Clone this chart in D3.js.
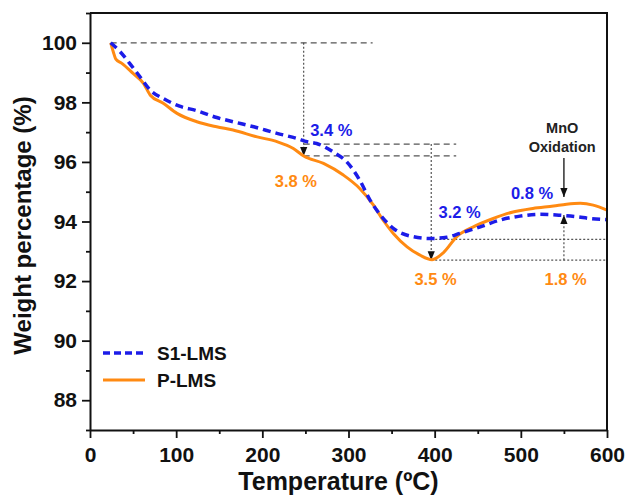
<!DOCTYPE html>
<html>
<head>
<meta charset="utf-8">
<script src="https://cdn.jsdelivr.net/npm/d3@7"></script>
<style>
  body { margin: 0; background: #fff; }
  svg text { font-family: "Liberation Sans", Arial, sans-serif; font-weight: bold; }
</style>
</head>
<body>
<div id="chart"></div>
<script>
// --- data (temperature in degC, weight in %) ---
const s1Temp   = [24, 35, 46, 58, 70, 85, 104, 124, 147, 166, 190, 217, 240, 252, 263, 282, 298, 313, 325, 337, 352, 375, 395, 414, 429, 453, 476, 499, 522, 545, 565, 580, 600];
const s1Weight = [100, 99.7, 99.31, 98.86, 98.41, 98.13, 97.87, 97.72, 97.49, 97.35, 97.18, 96.96, 96.79, 96.68, 96.62, 96.34, 96.0, 95.39, 94.72, 94.22, 93.77, 93.49, 93.43, 93.47, 93.6, 93.82, 94.05, 94.18, 94.24, 94.21, 94.16, 94.1, 94.06];

const pTemp   = [24, 27, 30, 37, 50, 62, 70, 85, 101, 124, 147, 166, 194, 217, 236, 248, 271, 294, 313, 329, 340, 352, 368, 383, 397, 410, 426, 445, 468, 491, 514, 538, 553, 569, 584, 600];
const pWeight = [100, 99.7, 99.45, 99.31, 98.97, 98.64, 98.24, 97.97, 97.63, 97.35, 97.18, 97.07, 96.84, 96.68, 96.45, 96.2, 95.95, 95.56, 95.11, 94.55, 94.05, 93.6, 93.15, 92.87, 92.72, 92.95, 93.5, 93.82, 94.1, 94.32, 94.44, 94.52, 94.58, 94.61, 94.55, 94.38];

const seriesNames = ['S1-LMS', 'P-LMS'];
const xTicks = [0, 100, 200, 300, 400, 500, 600];
const yTicks = [88, 90, 92, 94, 96, 98, 100];

// weight-loss annotations: [label, series, T, weight]
const lossLabels = [
  ['3.4 %', 0, 280, 96.87],
  ['3.8 %', 1, 239, 95.15],
  ['3.2 %', 0, 429, 94.11],
  ['3.5 %', 1, 401, 91.86],
  ['0.8 %', 0, 513, 94.75],
  ['1.8 %', 1, 552, 91.86]
];

const W = 627, H = 498;
const margin = { top: 13, right: 20, bottom: 68, left: 90 };
const width  = W - margin.left - margin.right;
const height = H - margin.top - margin.bottom;
const colors = ['#1c1ce8', '#ff8a12'];

const svg = d3.select('#chart').append('svg')
  .attr('width', W).attr('height', H);

const defs = svg.append('defs');
defs.append('marker')
  .attr('id', 'arrow')
  .attr('viewBox', '0 0 10 10')
  .attr('refX', 10).attr('refY', 5)
  .attr('markerUnits', 'userSpaceOnUse')
  .attr('markerWidth', 9).attr('markerHeight', 9)
  .attr('orient', 'auto')
  .append('path').attr('d', 'M0,1 L10,5 L0,9 Z').attr('fill', '#111');

const g = svg.append('g').attr('transform', `translate(${margin.left},${margin.top})`);

const x = d3.scaleLinear().domain([0, 600]).range([0, width]);
const y = d3.scaleLinear().domain([87, 101]).range([height, 0]);

// --- reference lines ---
const ref = g.append('g').attr('fill', 'none');
function hline(v, t0, t1, dash, color) {
  ref.append('line')
    .attr('x1', x(t0)).attr('x2', x(t1)).attr('y1', y(v)).attr('y2', y(v))
    .attr('stroke', color).attr('stroke-width', 1.3).attr('stroke-dasharray', dash);
}
function vline(t, v0, v1, arrow) {
  ref.append('line')
    .attr('x1', x(t)).attr('x2', x(t)).attr('y1', y(v0)).attr('y2', y(v1))
    .attr('stroke', '#444').attr('stroke-width', 1.1).attr('stroke-dasharray', '2,2')
    .attr('marker-end', arrow ? 'url(#arrow)' : null);
}
hline(100, 24, 328, '6,4', '#555');
hline(96.6, 248, 425, '6,4', '#555');
hline(96.2, 248, 425, '6,4', '#555');
hline(93.4, 396, 600, '2,2', '#555');
hline(92.7, 396, 600, '2,2', '#555');
vline(248, 100, 96.2, true);
vline(396, 96.6, 92.7, true);
vline(550, 92.7, 94.22, true);

// --- curves ---
const line = d3.line()
  .x(d => x(d[0])).y(d => y(d[1]))
  .curve(d3.curveMonotoneX);

const pData  = pTemp.map((t, i) => [t, pWeight[i]]);
const s1Data = s1Temp.map((t, i) => [t, s1Weight[i]]);

g.append('path').datum(pData)
  .attr('d', line).attr('fill', 'none')
  .attr('stroke', colors[1]).attr('stroke-width', 3);

g.append('path').datum(s1Data)
  .attr('d', line).attr('fill', 'none')
  .attr('stroke', colors[0]).attr('stroke-width', 3.5)
  .attr('stroke-dasharray', '8,5');

// MnO oxidation arrow
g.append('line')
  .attr('x1', x(550)).attr('x2', x(550))
  .attr('y1', y(96.13)).attr('y2', y(94.82))
  .attr('stroke', '#111').attr('stroke-width', 1.3)
  .attr('marker-end', 'url(#arrow)');

g.selectAll('.mno')
  .data([['MnO', 96.97], ['Oxidation', 96.33]])
  .join('text')
    .attr('x', x(548)).attr('y', d => y(d[1]))
    .attr('text-anchor', 'middle')
    .attr('font-size', 14.5).attr('fill', '#222')
    .text(d => d[0]);

g.selectAll('.loss')
  .data(lossLabels)
  .join('text')
    .attr('x', d => x(d[2])).attr('y', d => y(d[3]))
    .attr('text-anchor', 'middle')
    .attr('font-size', 16.5)
    .attr('fill', d => colors[d[1]])
    .text(d => d[0]);

// --- axes ---
g.append('g').attr('transform', `translate(0,${height})`)
  .call(d3.axisBottom(x).tickValues(xTicks).tickSize(8).tickPadding(9).tickSizeOuter(0));
g.append('g').attr('transform', `translate(0,${height})`)
  .call(d3.axisBottom(x).tickValues(d3.range(50, 600, 100)).tickSize(4).tickFormat('').tickSizeOuter(0))
  .select('.domain').remove();

g.append('g')
  .call(d3.axisLeft(y).tickValues(yTicks).tickSize(8).tickPadding(5).tickSizeOuter(0));
g.append('g')
  .call(d3.axisLeft(y).tickValues(d3.range(87, 101.5, 2)).tickSize(4).tickFormat('').tickSizeOuter(0))
  .select('.domain').remove();

g.selectAll('.tick line').attr('stroke', '#111').attr('stroke-width', 1.8);
g.selectAll('.tick text').attr('font-size', 21).attr('fill', '#111');
g.selectAll('.domain').attr('stroke', '#111').attr('stroke-width', 2);

// top and right frame
g.append('path')
  .attr('d', `M0,0 H${width} V${height}`)
  .attr('fill', 'none').attr('stroke', '#111').attr('stroke-width', 2);

// axis titles
svg.append('text')
  .attr('x', margin.left + width / 2 - 10).attr('y', 490)
  .attr('text-anchor', 'middle').attr('font-size', 25).attr('fill', '#111')
  .text('Temperature (ºC)');

svg.append('text')
  .attr('transform', `translate(31,${margin.top + y(94) + 4}) rotate(-90)`)
  .attr('text-anchor', 'middle').attr('font-size', 24).attr('fill', '#111')
  .text('Weight percentage (%)');

// --- legend ---
const legend = g.append('g').attr('transform', `translate(${103 - margin.left},${353 - margin.top})`);
seriesNames.forEach((name, i) => {
  const row = legend.append('g').attr('transform', `translate(0,${i * 27})`);
  row.append('line')
    .attr('x1', 0).attr('x2', 42)
    .attr('stroke', colors[i])
    .attr('stroke-width', i === 0 ? 3.4 : 3)
    .attr('stroke-dasharray', i === 0 ? '7,4' : null);
  row.append('text')
    .attr('x', 54).attr('y', 7)
    .attr('font-size', 19).attr('fill', '#111')
    .text(name);
});
</script>
</body>
</html>
